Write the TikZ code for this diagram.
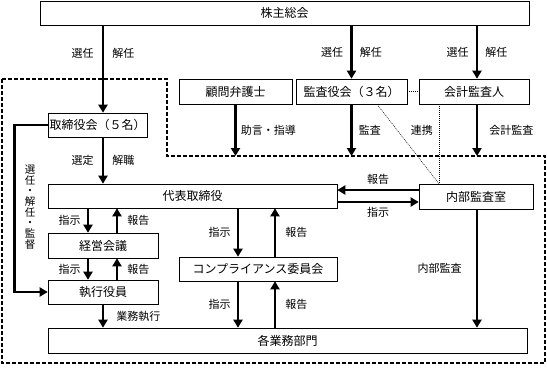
\documentclass[tikz,border=0pt]{standalone}
\usepackage{fontspec}
\setmainfont{Noto Sans CJK JP}
\usepackage{tikz}
\usetikzlibrary{arrows.meta}

\begin{document}
\begin{tikzpicture}[x=1pt,y=-1pt,
  box/.style={draw,line width=0.6pt,inner sep=0pt,minimum height=24pt,font=\fontsize{12}{12}\selectfont},
  flow/.style={line width=2.6pt,-{Triangle[length=8pt,width=9pt]}},
  lbl/.style={inner sep=2pt,font=\fontsize{11}{11}\selectfont},
  zone/.style={line width=1.4pt,dash pattern=on 4pt off 2pt},
  link/.style={line width=0.5pt,dash pattern=on 1pt off 1pt}]
  \useasboundingbox (0,0) rectangle (547,368);
  \draw[zone] (2,79) -- (167,79) -- (167,156) -- (545,156) -- (545,363) -- (2,363) -- cycle;

  \node[box,minimum width=489pt] (kabu) at (284.5,13) {株主総会};
  \node[box,minimum width=99pt] (torishimari) at (97.5,125) {取締役会（５名）};
  \node[box,minimum width=113pt,minimum height=25pt] (komon) at (235.5,91.5) {顧問弁護士};
  \node[box,minimum width=111pt,minimum height=25pt] (kansa) at (351.5,91.5) {監査役会（３名）};
  \node[box,minimum width=110pt,minimum height=25pt] (kaikei) at (474,91.5) {会計監査人};
  \node[box,minimum width=289pt] (daihyo) at (192.5,196) {代表取締役};
  \node[box,minimum width=114pt,minimum height=25pt] (naibu) at (476,196.5) {内部監査室};
  \node[box,minimum width=110pt,minimum height=25pt] (keiei) at (103,245.5) {経営会議};
  \node[box,minimum width=110pt] (shikko) at (103,292) {執行役員};
  \node[box,minimum width=158pt] (comp) at (258,269) {コンプライアンス委員会};
  \node[box,minimum width=479pt,minimum height=25pt] (bumon) at (287.5,340.5) {各業務部門};

  \coordinate (zkomon) at (235.5,156);
  \coordinate (zkansa) at (351.5,156);
  \coordinate (zkaikei) at (477,156);

  \draw[flow] (kabu.south -| 103,0) -- (torishimari.north -| 103,0)
    node[lbl,pos=0.32,left=6pt] (sennin) {選任} node[lbl,pos=0.32,right=6pt] (kainin) {解任};
  \foreach \x/\n in {351.5/kansa,477/kaikei}{
    \draw[flow] (kabu.south -| \x,0) -- (\n.north -| \x,0)
      node[lbl,midway,left=5pt] (sennin-\n) {選任} node[lbl,midway,right=5pt] (kainin-\n) {解任};
  }
  \draw[flow] (komon) -- (zkomon) node[lbl,midway,right=2pt] (jogen) {助言・指導};
  \draw[flow] (kansa) -- (zkansa) node[lbl,midway,right=4pt] (kansalbl) {監査};
  \draw[flow] (kaikei.south -| zkaikei) -- (zkaikei) node[lbl,midway,right=9pt] (kaikeilbl) {会計監査};

  \draw[link] (kansa.east) -- (kaikei.west);
  \draw[link] (kansa.south -| 377,0) -- (naibu.north -| 439,0);
  \draw[link] (kaikei.south -| 439,0) -- (naibu.north -| 439,0)
    node[lbl,pos=0.33,left=4pt] (renkei) {連携};

  \draw[flow] (torishimari.south -| 103,0) -- (daihyo.north -| 103,0)
    node[lbl,midway,left=6pt] (sentei) {選定} node[lbl,midway,right=6pt] (kaishoku) {解職};
  \draw[flow] (torishimari.west) -- ++(-33,0) |- (shikko.west);
  \node[lbl,align=center,inner sep=0pt,font=\fontsize{10.5}{10.7}\selectfont] (kantoku) at (30,207)
    {選\\任\\・\\解\\任\\・\\監\\督};

  \foreach \a/\b/\xd/\xu in {daihyo/keiei/88/117,keiei/shikko/88/117,daihyo/comp/238/275,comp/bumon/238/275}{
    \draw[flow] (\a.south -| \xd,0) -- (\b.north -| \xd,0) node[lbl,midway,left=4pt] (shiji-\b) {指示};
    \draw[flow] (\b.north -| \xu,0) -- (\a.south -| \xu,0) node[lbl,midway,right=7pt] (hokoku-\b) {報告};
  }
  \draw[flow] (shikko.south) -- (bumon.north -| shikko.south) node[lbl,midway,right=10pt] (gyomu) {業務執行};

  \draw[flow] (naibu.west |- 0,190) -- (daihyo.east |- 0,190) node[lbl,midway,above=2pt] (hokoku-naibu) {報告};
  \draw[flow] (daihyo.east |- 0,202) -- (naibu.west |- 0,202) node[lbl,midway,below=2pt] (shiji-naibu) {指示};
  \draw[flow] (naibu.south -| 477,0) -- (bumon.north -| 477,0) node[lbl,midway,left=12pt] (naibulbl) {内部監査};
\end{tikzpicture}
\end{document}
